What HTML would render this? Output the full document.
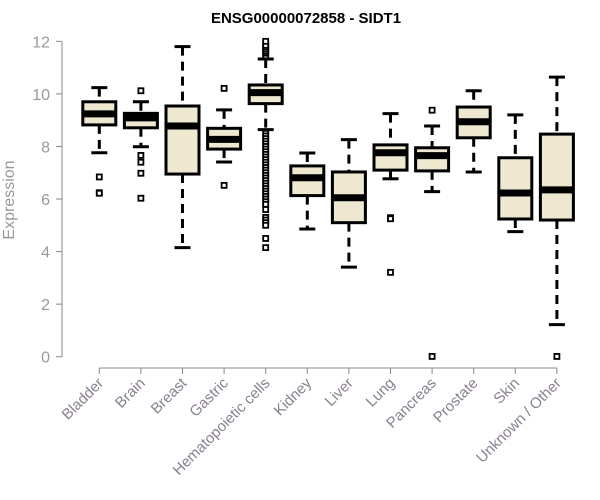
<!DOCTYPE html>
<html><head><meta charset="utf-8"><style>
body{margin:0;background:#fff}
svg{display:block;font-family:"Liberation Sans",Arial,sans-serif}
</style></head><body>
<svg id="c" width="600" height="500">
<text x="306" y="23" text-anchor="middle" font-weight="bold" font-size="15" fill="#000">ENSG00000072858 - SIDT1</text>
<text transform="translate(14,200) rotate(-90)" text-anchor="middle" font-size="16" fill="#999">Expression</text>
</svg>
<script>
const categories=["Bladder","Brain","Breast","Gastric","Hematopoietic cells","Kidney","Liver","Lung","Pancreas","Prostate","Skin","Unknown / Other"];
const whiskerLow=[7.76,7.99,4.15,7.41,8.64,4.86,3.41,6.77,6.28,7.03,4.76,1.22];
const q1=[8.82,8.71,6.95,7.90,9.63,6.13,5.10,7.10,7.07,8.33,5.24,5.20];
const median=[9.24,9.09,8.78,8.27,10.05,6.81,6.05,7.76,7.65,8.94,6.23,6.35];
const q3=[9.70,9.26,9.54,8.69,10.34,7.26,7.03,8.06,7.95,9.50,7.57,8.47];
const whiskerHigh=[10.24,9.70,11.80,9.39,11.33,7.75,8.26,9.25,8.78,10.12,9.20,10.64];
const outliers=[[6.84,6.24,6.22],[10.12,7.66,7.40,6.98,6.03],[],[10.21,6.52],
[11.45,11.55,11.62,11.7,11.78,11.85,12.0,8.5,8.4,8.3,8.2,8.1,8.0,7.9,7.8,7.7,7.6,7.5,7.4,7.3,7.2,7.1,7.0,6.9,6.8,6.7,6.6,6.5,6.4,6.3,6.2,6.1,6.0,5.9,5.8,5.6,5.3,5.2,5.1,5.0,4.5,4.15],
[],[],[5.29,5.25,3.21],[9.38,0.01],[],[],[0.01]];
const yTicks=[0,2,4,6,8,10,12];
const NS="http://www.w3.org/2000/svg";
const svg=document.getElementById('c');
const y=v=>356.7-v*26.28;
const x=i=>99.3+i*41.6;
function el(t,a,p){const e=document.createElementNS(NS,t);for(const k in a)e.setAttribute(k,a[k]);(p||svg).appendChild(e);return e;}
const ax=el('g',{});


el('line',{x1:62,x2:62,y1:y(12),y2:y(0),stroke:'#888'},ax);
yTicks.forEach(t=>{
 el('line',{x1:56,x2:62,y1:y(t),y2:y(t),stroke:'#888'},ax);
 const tx=el('text',{x:50,y:y(t)+6,'text-anchor':'end','font-size':16,fill:'#999'},ax);
 tx.textContent=t;
 
 
});
const xa=el('g',{});


el('line',{x1:x(0),x2:x(11),y1:368,y2:368,stroke:'#888'},xa);
categories.forEach((c,i)=>{
 el('line',{x1:x(i),x2:x(i),y1:368,y2:374,stroke:'#888'},xa);
 const tx=el('text',{transform:`translate(${x(i)+5},${384}) rotate(-45)`,'text-anchor':'end','font-size':15,fill:'#8a8090'},xa);
 tx.textContent=c;
 
 
});
categories.forEach((c,i)=>{
 const g=el('g',{});
 
 
 const cx=x(i),hw=16.5;
 el('line',{x1:cx,x2:cx,y1:y(whiskerHigh[i]),y2:y(q3[i]),stroke:'#000','stroke-width':3,'stroke-dasharray':'9,6'},g);
 el('line',{x1:cx,x2:cx,y1:y(q1[i]),y2:y(whiskerLow[i]),stroke:'#000','stroke-width':3,'stroke-dasharray':'9,6'},g);
 el('line',{x1:cx-8,x2:cx+8,y1:y(whiskerHigh[i]),y2:y(whiskerHigh[i]),stroke:'#000','stroke-width':3},g);
 el('line',{x1:cx-8,x2:cx+8,y1:y(whiskerLow[i]),y2:y(whiskerLow[i]),stroke:'#000','stroke-width':3},g);
 el('rect',{x:cx-hw,y:y(q3[i]),width:hw*2,height:y(q1[i])-y(q3[i]),fill:'#ede8cf',stroke:'#000','stroke-width':3},g);
 el('line',{x1:cx-hw,x2:cx+hw,y1:y(median[i]),y2:y(median[i]),stroke:'#000','stroke-width':7},g);
 outliers[i].forEach(v=>{
  const o=el('rect',{x:cx-2.5,y:y(v)-2.5,width:5,height:5,fill:'#fff',stroke:'#000','stroke-width':1.8},g);
  
  
 });
});
</script>
</body></html>
